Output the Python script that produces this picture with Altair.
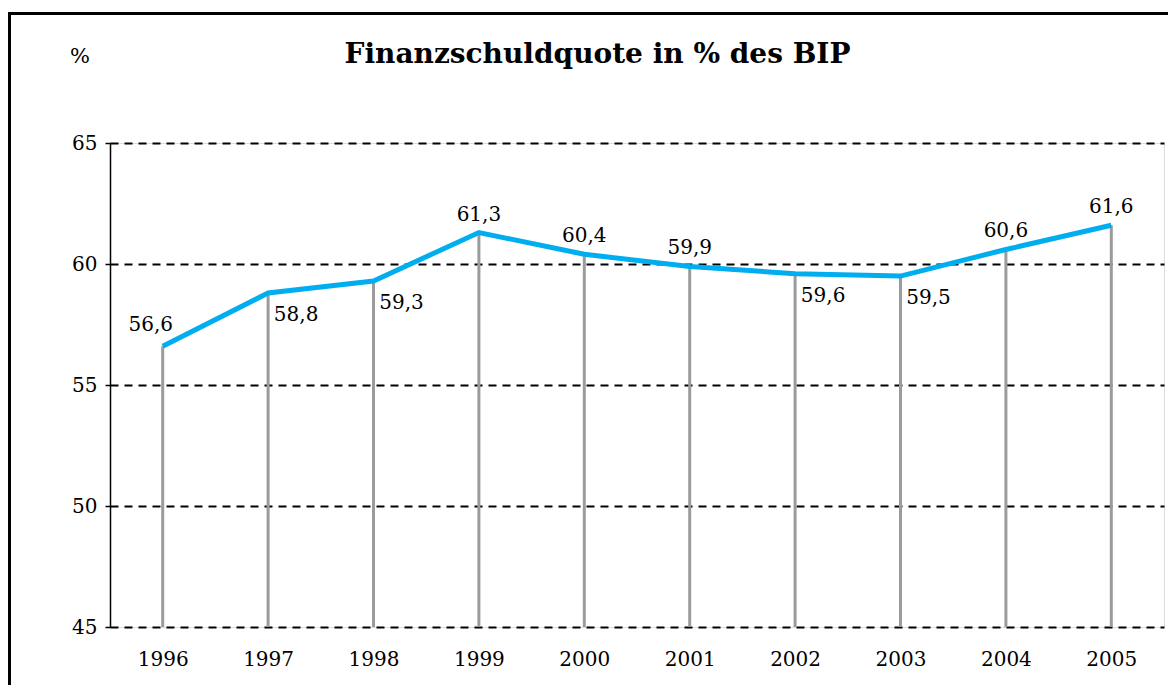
import altair as alt
import pandas as pd

years = ["1996", "1997", "1998", "1999", "2000", "2001", "2002", "2003", "2004", "2005"]
values = [56.6, 58.8, 59.3, 61.3, 60.4, 59.9, 59.6, 59.5, 60.6, 61.6]
labels = ["56,6", "58,8", "59,3", "61,3", "60,4", "59,9", "59,6", "59,5", "60,6", "61,6"]
y_ticks = [45, 50, 55, 60, 65]
title_text = "Finanzschuldquote in % des BIP"
unit_text = "%"

df = pd.DataFrame({"year": years, "value": values, "label": labels})

FONT = "DejaVu Serif"
W, H = 1054, 484

x_enc = alt.X(
    "year:N",
    sort=years,
    scale=alt.Scale(type="point", padding=0.5),
    axis=alt.Axis(
        title=None, ticks=False, tickSize=0, domain=False, grid=False,
        labelFont=FONT, labelFontSize=20, labelColor="#000000", labelPadding=22,
        labelAngle=0,
    ),
)
y_scale = alt.Scale(domain=[45, 65], nice=False, zero=False)
y_enc = alt.Y(
    "value:Q",
    scale=y_scale,
    axis=alt.Axis(
        title=None, values=y_ticks, domain=True, domainColor="#000000", domainWidth=1.5,
        ticks=True, tickColor="#000000", tickSize=5, tickWidth=1.5,
        grid=True, gridColor="#000000", gridWidth=2, gridDash=[8, 6],
        labelFont=FONT, labelFontSize=20, labelColor="#000000", labelPadding=8,
    ),
)

base = alt.Chart(df)

frame = alt.Chart(pd.DataFrame({"k": [0]})).mark_rect(
    filled=False, stroke="#000000", strokeWidth=3
).encode(
    x=alt.value(-100.5), x2=alt.value(W + 40), y=alt.value(-129.5), y2=alt.value(H + 120)
)

drops = base.mark_rule(color="#9b9b9b", strokeWidth=3).encode(
    x=x_enc, y=y_enc, y2=alt.Y2(datum=45)
)

line = base.mark_line(color="#00aeef", strokeWidth=5, strokeJoin="miter", strokeCap="butt").encode(
    x=x_enc, y=y_enc
)

below_years = ["1997", "1998", "2002", "2003"]
first_year = ["1996"]

lab_above = base.transform_filter(
    ~alt.FieldOneOfPredicate(field="year", oneOf=below_years + first_year)
).mark_text(font=FONT, fontSize=20, color="#000000", dy=-18, baseline="middle", align="center").encode(
    x=x_enc, y=y_enc, text="label:N"
)
lab_first = base.transform_filter(
    alt.FieldOneOfPredicate(field="year", oneOf=first_year)
).mark_text(font=FONT, fontSize=20, color="#000000", dx=-12, dy=-21, baseline="middle", align="center").encode(
    x=x_enc, y=y_enc, text="label:N"
)
lab_below = base.transform_filter(
    alt.FieldOneOfPredicate(field="year", oneOf=below_years)
).mark_text(font=FONT, fontSize=20, color="#000000", dx=28, dy=22, baseline="middle", align="center").encode(
    x=x_enc, y=y_enc, text="label:N"
)

one = pd.DataFrame({"t": [title_text]})
title = alt.Chart(one).mark_text(
    font=FONT, fontSize=28, fontWeight="bold", color="#000000", align="center", baseline="middle"
).encode(x=alt.value(487.5), y=alt.value(-88), text="t:N")

unit = alt.Chart(pd.DataFrame({"t": [unit_text]})).mark_text(
    font=FONT, fontSize=21, color="#000000", align="center", baseline="middle"
).encode(x=alt.value(-30), y=alt.value(-86), text="t:N")

chart = alt.layer(frame, drops, line, lab_above, lab_first, lab_below, title, unit).properties(
    width=W, height=H,
    autosize=alt.AutoSizeParams(type="none"),
    padding={"left": 102, "top": 135, "right": 4, "bottom": 58},
).configure_view(strokeWidth=0).configure(background="#ffffff")

chart.save("out.html", embed_options={"renderer": "svg", "actions": False})
